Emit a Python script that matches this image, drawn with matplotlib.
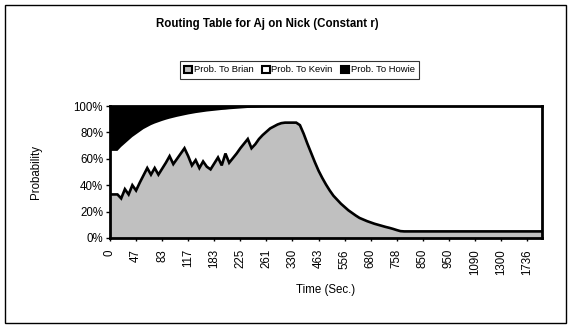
import numpy as np
import matplotlib
matplotlib.use("Agg")
import matplotlib.pyplot as plt
from matplotlib.patches import Rectangle, Patch

# ---------------- Data (percent) ----------------
# one value per time sample; only every 7th sample has a visible label
prob_brian = [
    33, 33, 33, 30, 37, 33, 40, 36, 42, 47.5,
    53, 48, 53, 48, 52.5, 57, 62, 56, 60, 64,
    68, 62, 55, 59, 53, 58, 54, 52, 56.5, 61,
    55, 64, 57, 60.5, 64, 68, 71.5, 75, 68, 71,
    75, 78, 80.5, 83, 84.5, 86, 87, 87.4, 87.4, 87.4,
    87.4, 85.5, 79, 71.5, 64.5, 57.5, 51, 45.5, 40.5, 36,
    32, 29, 26, 23.5, 21, 19, 17, 15.2, 14, 12.8,
    11.8, 10.8, 10, 9.2, 8.4, 7.7, 6.9, 6, 5.2, 5,
    5, 5, 5, 5, 5, 5, 5, 5, 5, 5,
    5, 5, 5, 5, 5, 5, 5, 5, 5, 5,
    5, 5, 5, 5, 5, 5, 5, 5, 5, 5,
    5, 5, 5, 5, 5, 5, 5,
]
prob_howie = [
    34, 34, 34, 31, 28.5, 26, 23.5, 21.5, 19.5, 17.5,
    16, 14.5, 13.3, 12.3, 11.3, 10.4, 9.6, 8.9, 8.2, 7.6,
    7, 6.4, 5.9, 5.4, 5, 4.6, 4.2, 3.9, 3.6, 3.3,
    3, 2.8, 2.5, 2.3, 2.1, 1.9, 1.7, 1.5, 1.3, 1.2,
    1, 0.9, 0.8, 0.7, 0.6, 0.5, 0.4, 0.3, 0.2, 0.1,
    0, 0, 0, 0, 0, 0, 0, 0, 0, 0,
    0, 0, 0, 0, 0, 0, 0, 0, 0, 0,
    0, 0, 0, 0, 0, 0, 0, 0, 0, 0,
    0, 0, 0, 0, 0, 0, 0, 0, 0, 0,
    0, 0, 0, 0, 0, 0, 0, 0, 0, 0,
    0, 0, 0, 0, 0, 0, 0, 0, 0, 0,
    0, 0, 0, 0, 0, 0, 0,
]
# 100% stacked chart: Kevin gets whatever is left
prob_kevin = [100 - b - h for b, h in zip(prob_brian, prob_howie)]

time_labels = ["0", "47", "83", "117", "183", "225", "261", "330", "463",
               "556", "680", "758", "850", "950", "1090", "1300", "1736"]
LABEL_EVERY = 7

series_names = ["Prob. To Brian", "Prob. To Kevin", "Prob. To Howie"]
colors = ["#C0C0C0", "#FFFFFF", "#000000"]

plt.rcParams["font.family"] = ["Liberation Sans", "DejaVu Sans"]

# ---------------- Plot ----------------
W, H = 571, 325
fig = plt.figure(figsize=(W / 100, H / 100), dpi=100)
ax = fig.add_axes([110 / W, 1 - 238 / H, 432 / W, 132 / H])

x = np.arange(len(prob_brian))
ys = np.array([prob_brian, prob_kevin, prob_howie]) / 100.0
ax.stackplot(x, ys, colors=colors, linewidth=0)
ax.plot(x, ys[0], color="black", lw=1.9, solid_joinstyle="miter")

ax.set_xlim(0, len(x) - 1)
ax.set_ylim(0, 1)
ax.set_yticks(np.linspace(0, 1, 6))
ax.set_yticklabels([f"{int(v)}%" for v in np.linspace(0, 100, 6)], fontsize=8.3)
ax.set_xticks(np.arange(len(time_labels)) * LABEL_EVERY)
ax.set_xticklabels(time_labels, rotation=90, fontsize=8.3, va="top")
ax.tick_params(axis="y", length=3, width=1, pad=2)
ax.tick_params(axis="x", length=2, width=1, pad=6)
for sp in ax.spines.values():
    sp.set_linewidth(2)
    sp.set_color("black")

ax.set_ylabel("Probability", fontsize=8.3, labelpad=0)
ax.yaxis.set_label_coords((42 - 110) / 432, 0.5)
fig.text(326 / W, 1 - 290 / H, "Time (Sec.)", ha="center", va="center", fontsize=8.3)
fig.text(267 / W, 1 - 24 / H, "Routing Table for Aj on Nick (Constant r)",
         ha="center", va="center", fontsize=8.3, fontweight="bold")

handles = [Patch(facecolor=c, edgecolor="black", linewidth=1.5) for c in colors]
leg = fig.legend(handles, series_names, loc="center", ncol=3,
                 bbox_to_anchor=(299.5 / W, 1 - 70 / H), fontsize=6.8,
                 frameon=True, fancybox=False, edgecolor="black",
                 handlelength=0.8, handleheight=0.8, handletextpad=0.2,
                 columnspacing=0.9, borderpad=0.5)
leg.get_frame().set_linewidth(0.8)

# outer chart frame
fig.patches.append(Rectangle((5 / W, 1 - 323 / H), 561 / W, 318 / H,
                             transform=fig.transFigure, fill=False,
                             edgecolor="black", linewidth=1))

fig.savefig("out.png", dpi=100)
